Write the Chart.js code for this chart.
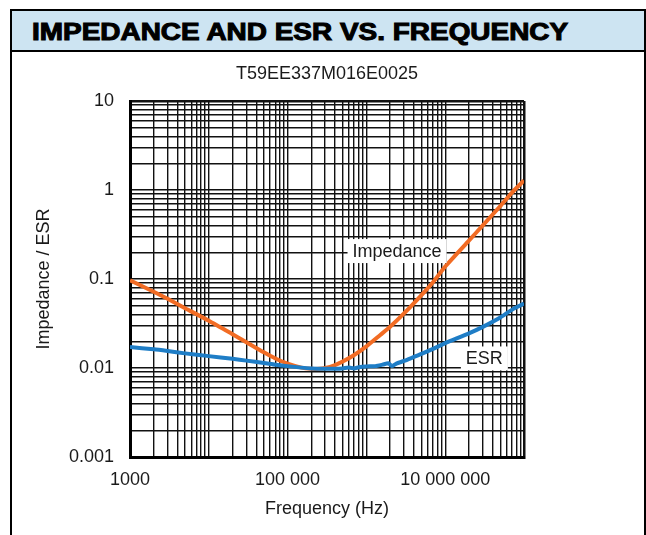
<!DOCTYPE html>
<html>
<head>
<meta charset="utf-8">
<script src="https://cdn.jsdelivr.net/npm/chart.js@4.4.0/dist/chart.umd.min.js"></script>
<style>
  html, body { margin: 0; padding: 0; background: #fff; }
  #wrap { position: relative; width: 646px; height: 535px; overflow: hidden; }
  #chart { position: absolute; left: 0; top: 0; }
  #frame { position: absolute; left: 10px; top: 9px; width: 636px; height: 560px;
           border: 2px solid #000; box-sizing: border-box; pointer-events: none; }
  #head { position: absolute; left: 0; top: 0; right: 0; height: 39px;
          background: #cde4f2; border-bottom: 2px solid #000; }
  #head span { position: absolute; left: 20px; top: 10px; font: bold 23px/23px "Liberation Sans", Arial, sans-serif;
               color: #000; -webkit-text-stroke: 1px #000; white-space: nowrap;
               transform: scaleX(1.215); transform-origin: left top; }
</style>
</head>
<body>
<div id="wrap">
  <canvas id="chart" width="646" height="535"></canvas>
  <div id="frame"><div id="head"><span>IMPEDANCE AND ESR VS. FREQUENCY</span></div></div>
</div>
<script>
// values (Hz, ohm)
const impFreq = [1e3, 2e3, 3e3, 5e3, 1e4, 2e4, 3e4, 5e4, 7e4, 1e5, 1.5e5, 2e5, 2.5e5, 3e5, 4e5, 5e5, 7e5,
  1e6, 1.5e6, 2e6, 3e6, 5e6, 7e6, 1e7, 2e7, 3e7, 5e7, 7e7, 1e8]
const impValues = [0.097, 0.072, 0.060, 0.047, 0.034, 0.024, 0.0195, 0.0150, 0.0128, 0.0112, 0.0101, 0.0098,
  0.0098, 0.0100, 0.0108, 0.0118, 0.0140, 0.0175, 0.0235, 0.029, 0.041, 0.066, 0.092, 0.138, 0.27, 0.40,
  0.66, 0.93, 1.28]

const esrFreq = [1e3, 2e3, 3e3, 5e3, 1e4, 2e4, 3e4, 5e4, 7e4, 1e5, 1.5e5, 2e5, 3e5, 4e5, 5e5, 6e5, 7e5, 8e5,
  1e6, 1.3e6, 1.6e6, 1.9e6, 2.1e6, 2.4e6, 3e6, 4e6, 5e6, 7e6, 1e7, 2e7, 3e7, 5e7, 7e7, 1e8]
const esrValues = [0.0172, 0.0162, 0.0155, 0.0146, 0.0136, 0.0127, 0.0121, 0.0114, 0.0109, 0.0105, 0.0101,
  0.0099, 0.0098, 0.0098, 0.0099, 0.0101, 0.0099, 0.0102, 0.0104, 0.0105, 0.0109, 0.0113, 0.0105, 0.0112,
  0.0120, 0.0133, 0.0144, 0.0164, 0.0190, 0.0245, 0.029, 0.037, 0.045, 0.053]

const xTickValues = [1e3, 1e5, 1e7]
const xTickLabels = ['1000', '100 000', '10 000 000']
const yTickValues = [0.001, 0.01, 0.1, 1, 10]
const yTickLabels = ['0.001', '0.01', '0.1', '1', '10']

const subtitle = 'T59EE337M016E0025'

// label anchors in data units
const curveLabels = [
  { text: 'Impedance', x: 2.45e6, y: 0.206 },
  { text: 'ESR', x: 3.14e7, y: 0.0128 },
]

const FONT = 'Liberation Sans'
const INK = '#1a1a1a'

const decadeTicks = (lo, hi) => {
  const out = []
  for (let e = lo; e < hi; e++) {
    for (let m = 1; m < 10; m++) out.push(m * Math.pow(10, e))
  }
  out.push(Math.pow(10, hi))
  return out.map(value => ({ value }))
}

const same = (a, b) => Math.abs(Math.log10(a) - Math.log10(b)) < 1e-6

const labelFor = (values, labels) => (value) => {
  const i = values.findIndex(v => same(v, value))
  return i < 0 ? '' : labels[i]
}

const gridWidth = (lo, hi) => (ctx) => {
  const v = ctx.tick && ctx.tick.value
  return (v && (same(v, lo) || same(v, hi))) ? 2.5 : 1.4
}

const toPoints = (xs, ys) => xs.map((x, i) => ({ x, y: ys[i] }))

const boxLabels = {
  id: 'boxLabels',
  afterDatasetsDraw (chart) {
    const { ctx, chartArea, scales: { x, y } } = chart
    ctx.save()
    ctx.font = `18px "${FONT}"`
    ctx.textAlign = 'center'
    ctx.textBaseline = 'middle'
    curveLabels.forEach(l => {
      const px = x.getPixelForValue(l.x)
      const py = y.getPixelForValue(l.y)
      const w = ctx.measureText(l.text).width + 10
      ctx.fillStyle = '#fff'
      ctx.fillRect(px - w / 2, py - 12, w, 24)
      ctx.fillStyle = INK
      ctx.fillText(l.text, px, py + 1)
    })
    // subtitle centred over the plot
    ctx.fillText(subtitle, (chartArea.left + chartArea.right) / 2, chartArea.top - 27)
    ctx.restore()
  },
}

new Chart(document.getElementById('chart'), {
  type: 'line',
  data: {
    datasets: [
      { label: 'ESR', data: toPoints(esrFreq, esrValues), borderColor: '#1e7dc6', borderWidth: 4,
        pointRadius: 0, tension: 0.2, fill: false },
      { label: 'Impedance', data: toPoints(impFreq, impValues), borderColor: '#f26c24', borderWidth: 4,
        pointRadius: 0, tension: 0.2, fill: false },
    ],
  },
  options: {
    responsive: false,
    animation: false,
    layout: { padding: { left: 20, right: 122, top: 101, bottom: 10 } },
    plugins: {
      legend: { display: false },
      tooltip: { enabled: false },
      title: { display: false },
    },
    scales: {
      x: {
        type: 'logarithmic', min: 1e3, max: 1e8,
        afterBuildTicks: s => { s.ticks = decadeTicks(3, 8) },
        afterFit: s => { s.height = 68 },
        grid: { color: '#111', lineWidth: gridWidth(1e3, 1e8), drawTicks: false },
        border: { display: true, color: '#000', width: 3 },
        ticks: { autoSkip: false, maxRotation: 0, padding: 12, color: INK,
          font: { family: FONT, size: 18 }, callback: labelFor(xTickValues, xTickLabels) },
        title: { display: true, text: 'Frequency (Hz)', color: INK,
          font: { family: FONT, size: 18 }, padding: { top: 0, bottom: 5 } },
      },
      y: {
        type: 'logarithmic', min: 0.001, max: 10,
        afterBuildTicks: s => { s.ticks = decadeTicks(-3, 1) },
        afterFit: s => { s.width = 110 },
        grid: { color: '#111', lineWidth: gridWidth(0.001, 10), drawTicks: false },
        border: { display: true, color: '#000', width: 3 },
        ticks: { autoSkip: false, padding: 16, color: INK,
          font: { family: FONT, size: 18 }, callback: labelFor(yTickValues, yTickLabels) },
        title: { display: true, text: 'Impedance / ESR', color: INK,
          font: { family: FONT, size: 18 }, padding: { top: 13, bottom: 0 } },
      },
    },
  },
  plugins: [boxLabels],
})
</script>
</body>
</html>
